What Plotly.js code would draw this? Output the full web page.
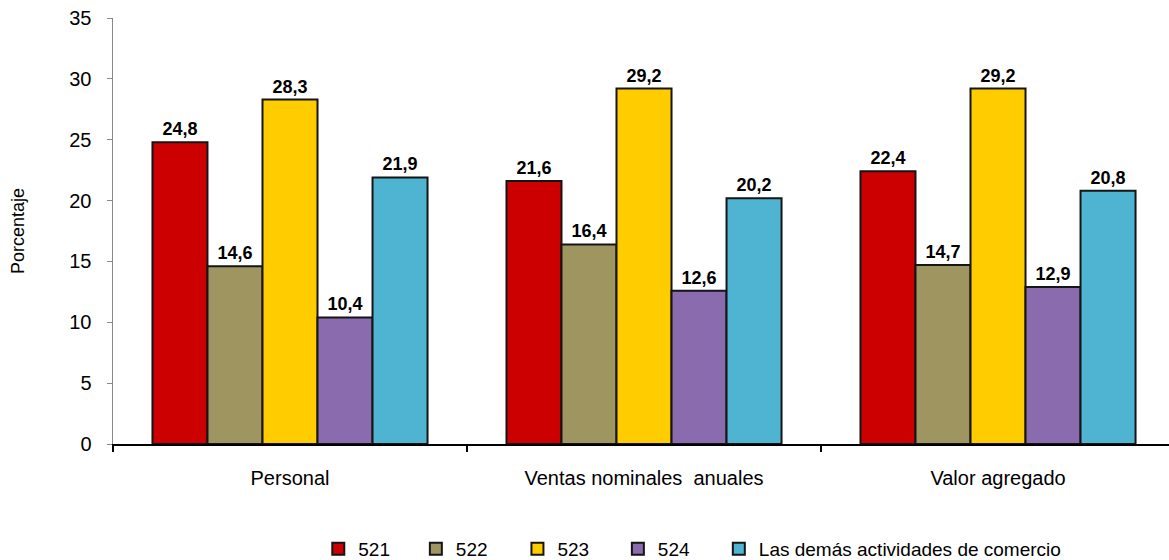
<!DOCTYPE html>
<html>
<head>
<meta charset="utf-8">
<script src="https://cdn.plot.ly/plotly-3.0.1.min.js"></script>
<style>html,body{margin:0;padding:0;background:#fff;}#chart{width:1169px;height:560px;}</style>
</head>
<body>
<div id="chart"></div>
<script>
const categories = ["Personal", "Ventas nominales  anuales", "Valor agregado"];
const seriesNames = ["521", "522", "523", "524", "Las demás actividades de comercio"];
const s521 = [24.8, 21.6, 22.4];
const s522 = [14.6, 16.4, 14.7];
const s523 = [28.3, 29.2, 29.2];
const s524 = [10.4, 12.6, 12.9];
const sOtras = [21.9, 20.2, 20.8];
const colors = ["#CC0000", "#9E9560", "#FFCC00", "#8A6BAD", "#4FB4D2"];
const legendX = [0.1944, 0.2868, 0.3830, 0.4781, 0.5737];

const FONT = "Liberation Sans, Arial, sans-serif";
const allSeries = [s521, s522, s523, s524, sOtras];
const traces = allSeries.map((vals, i) => ({
  type: "bar",
  name: seriesNames[i],
  legend: i === 0 ? "legend" : "legend" + (i + 1),
  x: categories,
  y: vals,
  marker: {color: colors[i], line: {color: "#151515", width: 2}},
  texttemplate: "%{y:.1f}",
  textposition: "outside",
  cliponaxis: false,
  textfont: {family: FONT, size: 18, color: "#000", weight: "bold"},
  hoverinfo: "skip"
}));

const layout = {
  width: 1169, height: 560,
  margin: {l: 113, r: 0, t: 18, b: 116, autoexpand: false},
  paper_bgcolor: "#fff", plot_bgcolor: "#fff",
  separators: ",.",
  barmode: "group",
  bargap: 0.223,
  bargroupgap: 0,
  font: {family: FONT, color: "#000"},
  xaxis: {
    type: "category",
    range: [-0.5, 2.483],
    showline: true, linecolor: "#000", linewidth: 1.5,
    ticks: "outside", tickson: "boundaries", ticklen: 6, tickcolor: "#000", tickwidth: 1.5,
    tickfont: {size: 20, color: "#000"},
    ticklabelstandoff: 15,
    showgrid: false, zeroline: false
  },
  yaxis: {
    range: [0, 35], dtick: 5,
    showline: true, linecolor: "#888", linewidth: 1.5,
    ticks: "outside", ticklen: 5, tickcolor: "#888", tickwidth: 1,
    tickfont: {size: 20, color: "#000"},
    ticklabelstandoff: 11,
    showgrid: false, zeroline: false,
    title: {text: "Porcentaje", font: {size: 18, color: "#000"}, standoff: 40}
  },
  showlegend: true
};
legendX.forEach((lx, i) => {
  const key = i === 0 ? "legend" : "legend" + (i + 1);
  layout[key] = {
    orientation: "h", x: lx, xanchor: "left", y: -0.246, yanchor: "middle",
    font: {size: 19, color: "#000", family: FONT},
    bgcolor: "rgba(0,0,0,0)", borderwidth: 0
  };
});

Plotly.newPlot("chart", traces, layout, {displayModeBar: false, staticPlot: true});
</script>
</body>
</html>
